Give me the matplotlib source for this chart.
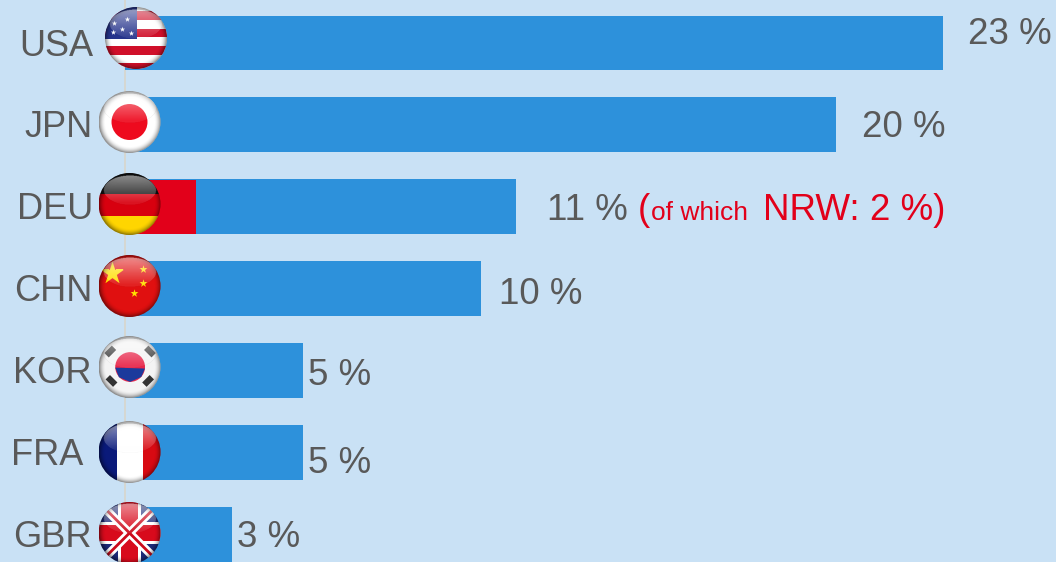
import numpy as np
from matplotlib import pyplot as plt
from matplotlib.patches import Circle, Rectangle, Polygon

plt.rcParams['font.family'] = ['Liberation Sans', 'DejaVu Sans']

W, H = 1056, 562

countries = ['USA', 'JPN', 'DEU', 'CHN', 'KOR', 'FRA', 'GBR']
shares = [23, 20, 11, 10, 5, 5, 3]
nrw_share = 2

BG = '#c9e1f5'
BLUE = '#2d91db'
RED = '#e2001a'
GREY = '#595959'

# label tweaks in pixels, the original has them placed by hand
value_dx = [25, 26, 31, 18, 5, 5, 5]
value_dy = [9, -3, -4, -6, -5, -11, -3]
name_right = [93, 93, 93, 93, 92, 83, 92]
flag_cx = [136, 129.5, 129.5, 129.5, 129.5, 129.5, 129.5]
flag_cy = [38, 122, 204, 286, 367, 452, 533]
FLAG_R = 31


def rect(ax, x0, y0, x1, y1, col):
    return ax.add_patch(Rectangle((x0, y0), x1 - x0, y1 - y0, fc=col, ec='none'))


def flag_usa(ax):
    rect(ax, -1, -1, 1, 1, 'white')
    for y in np.arange(-1.1, 1.0, 0.56):
        rect(ax, -1, y, 1, y + 0.28, '#d0102a')
    rect(ax, -1, -0.02, 0.02, 1, '#26348c')
    ax.scatter([-0.7, -0.3, -0.75, -0.45, -0.15], [0.5, 0.6, 0.2, 0.28, 0.15],
               marker='*', s=16, c='white', lw=0)


def flag_jpn(ax):
    rect(ax, -1, -1, 1, 1, 'white')
    ax.add_patch(Circle((0, 0), 0.58, fc='#ee0a1e', ec='none'))


def flag_deu(ax):
    rect(ax, -1, 0.32, 1, 1, '#111111')
    rect(ax, -1, -0.38, 1, 0.32, '#d8000f')
    rect(ax, -1, -1, 1, -0.38, '#ffd500')


def flag_chn(ax):
    rect(ax, -1, -1, 1, 1, '#e01010')
    ax.scatter([-0.58], [0.42], marker='*', s=300, c='#ffe000', lw=0)
    ax.scatter([0.45, 0.45, 0.16], [0.54, 0.09, -0.24], marker='*', s=36, c='#ffe000', lw=0)


def flag_kor(ax):
    rect(ax, -1, -1, 1, 1, '#f4f4f4')
    ax.add_patch(Circle((0.02, 0), 0.48, fc='#e8264a', ec='none'))
    ax.add_patch(Polygon([(-0.46, -0.02), (0.5, -0.05), (0.38, -0.32), (0.02, -0.48), (-0.34, -0.33)],
                         fc='#1c3a9c', ec='none'))
    for x, y, ang in [(-0.62, 0.5, 45), (0.66, 0.5, -45), (-0.58, -0.45, -45), (0.6, -0.45, 45)]:
        ax.add_patch(Rectangle((x - 0.17, y - 0.1), 0.34, 0.2, angle=ang, rotation_point='center',
                               fc='#333333', ec='none'))


def flag_fra(ax):
    rect(ax, -1, -1, -0.41, 1, '#0a1a7a')
    rect(ax, -0.41, -1, 0.45, 1, 'white')
    rect(ax, 0.45, -1, 1, 1, '#d80a12')


def flag_gbr(ax):
    rect(ax, -1, -1, 1, 1, '#1c2a78')
    ax.plot([-1, 1], [-1, 1], c='white', lw=6, solid_capstyle='butt')
    ax.plot([-1, 1], [1, -1], c='white', lw=6, solid_capstyle='butt')
    ax.plot([-1, 1], [-1, 1], c='#cc0a1c', lw=2, solid_capstyle='butt')
    ax.plot([-1, 1], [1, -1], c='#cc0a1c', lw=2, solid_capstyle='butt')
    rect(ax, -0.37, -1, 0.37, 1, 'white')
    rect(ax, -1, -0.37, 1, 0.37, 'white')
    rect(ax, -0.27, -1, 0.27, 1, '#d80a1c')
    rect(ax, -1, -0.27, 1, 0.27, '#d80a1c')


flags = [flag_usa, flag_jpn, flag_deu, flag_chn, flag_kor, flag_fra, flag_gbr]


def gloss():
    # dark rim, soft white highlight on the top half
    g = np.linspace(-1, 1, 160)
    xx, yy = np.meshgrid(g, g)
    rr = np.sqrt(xx**2 + yy**2)
    img = np.zeros((160, 160, 4))
    rim = np.clip((rr - 0.78) / 0.22, 0, 1)**2 * 0.45
    top = ((xx / 0.85)**2 + ((yy - 0.45) / 0.48)**2 < 1) * (0.08 + 0.5 * np.clip((yy - 0.05), 0, 1))
    alpha = 1 - (1 - rim) * (1 - top)
    img[..., :3] = (top / np.maximum(alpha, 1e-6))[..., None]
    img[..., 3] = alpha
    return img


fig = plt.figure(figsize=(W / 100, H / 100), dpi=100, facecolor=BG)
ax = fig.add_axes([0, 0, 1, 1])
ax.set_facecolor(BG)

pos = np.arange(len(countries))
px_per_unit = 818 / 23
row = 81.9
ax.set_xlim(-125 / px_per_unit, (W - 125) / px_per_unit)
ax.set_ylim((H - 43) / row, -43 / row)
ax.axvline(0, color='#d8d6cc', lw=1.2, zorder=1)
ax.barh(pos, shares, height=0.67, color=BLUE, zorder=2)
ax.barh(2, nrw_share, height=0.66, color=RED, zorder=3)
ax.axis('off')

for i, name in enumerate(countries):
    y_px = 43 + row * i
    fig.text(name_right[i] / W, 1 - (y_px + 3) / H, name, ha='right', va='center',
             fontsize=26, color=GREY)
    ax.annotate(f'{shares[i]} %', (shares[i], i), xytext=(value_dx[i], value_dy[i]),
                textcoords='offset pixels', ha='left', va='center', fontsize=26.5, color=GREY)

ax.annotate('(', (11, 2), xytext=(122, -4), textcoords='offset pixels', va='center',
            fontsize=26.5, color=RED)
ax.annotate('of which', (11, 2), xytext=(135, -6), textcoords='offset pixels', va='center',
            fontsize=19, color=RED)
ax.annotate('NRW: 2 %)', (11, 2), xytext=(247, -4), textcoords='offset pixels', va='center',
            fontsize=26.5, color=RED)

for i, draw in enumerate(flags):
    fa = fig.add_axes([(flag_cx[i] - FLAG_R) / W, 1 - (flag_cy[i] + FLAG_R) / H,
                       2 * FLAG_R / W, 2 * FLAG_R / H])
    fa.set_xlim(-1, 1)
    fa.set_ylim(-1, 1)
    fa.axis('off')
    draw(fa)
    fa.imshow(gloss(), extent=(-1, 1, -1, 1), origin='lower', zorder=10, aspect='auto')
    clip = Circle((0, 0), 1, transform=fa.transData)
    for art in fa.patches + fa.lines + fa.collections + fa.images:
        art.set_clip_path(clip)

fig.savefig('out.png', dpi=100, facecolor=BG)
